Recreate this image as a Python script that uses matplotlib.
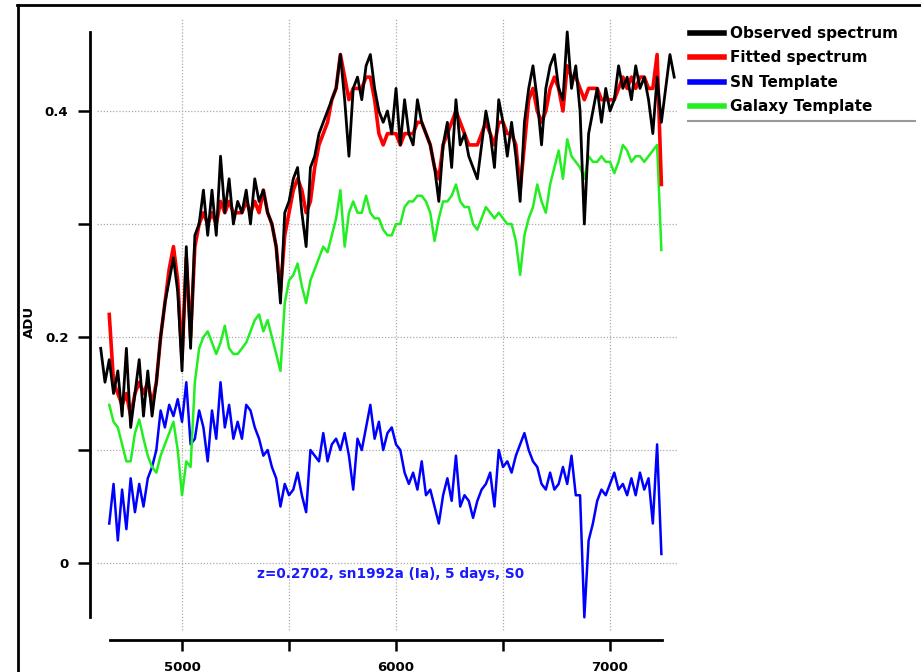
import numpy as np
import matplotlib.pyplot as plt
from matplotlib.lines import Line2D

# wavelength grids (Angstrom)
wave_obs = np.arange(4620, 7301, 20)   # observed spectrum
wave_mod = np.arange(4660, 7241, 20)   # fit + templates

# observed spectrum (ADU), rows of 10 starting at 4620, 4820, ...
observed = [
    0.19, 0.16, 0.18, 0.15, 0.17, 0.13, 0.19, 0.12, 0.15, 0.18,
    0.13, 0.17, 0.13, 0.16, 0.20, 0.23, 0.25, 0.27, 0.24, 0.17,
    0.28, 0.19, 0.29, 0.30, 0.33, 0.29, 0.33, 0.29, 0.36, 0.31,
    0.34, 0.30, 0.32, 0.31, 0.33, 0.30, 0.34, 0.32, 0.33, 0.31,
    0.30, 0.28, 0.23, 0.31, 0.32, 0.34, 0.35, 0.31, 0.28, 0.35,
    0.36, 0.38, 0.39, 0.40, 0.41, 0.42, 0.45, 0.41, 0.36, 0.42,
    0.43, 0.41, 0.44, 0.45, 0.42, 0.40, 0.39, 0.40, 0.38, 0.42,
    0.37, 0.41, 0.38, 0.37, 0.41, 0.39, 0.38, 0.37, 0.35, 0.32,
    0.37, 0.39, 0.35, 0.41, 0.37, 0.38, 0.36, 0.35, 0.34, 0.37,
    0.40, 0.38, 0.35, 0.41, 0.39, 0.36, 0.39, 0.36, 0.32, 0.39,
    0.42, 0.44, 0.41, 0.37, 0.42, 0.44, 0.45, 0.42, 0.41, 0.47,
    0.42, 0.44, 0.40, 0.30, 0.38, 0.40, 0.42, 0.39, 0.42, 0.40,
    0.41, 0.44, 0.42, 0.43, 0.41, 0.44, 0.42, 0.43, 0.41, 0.38,
    0.43, 0.39, 0.42, 0.45, 0.43,
]

# fitted spectrum, rows of 10 starting at 4660, 4860, ...
fitted = [
    0.22, 0.16, 0.15, 0.14, 0.15, 0.13, 0.15, 0.16, 0.15, 0.16,
    0.14, 0.16, 0.20, 0.23, 0.26, 0.28, 0.25, 0.18, 0.27, 0.20,
    0.28, 0.30, 0.31, 0.30, 0.31, 0.30, 0.32, 0.31, 0.32, 0.31,
    0.31, 0.31, 0.32, 0.31, 0.32, 0.31, 0.33, 0.31, 0.30, 0.28,
    0.24, 0.29, 0.31, 0.33, 0.34, 0.33, 0.31, 0.32, 0.35, 0.37,
    0.38, 0.39, 0.41, 0.42, 0.45, 0.43, 0.41, 0.42, 0.42, 0.42,
    0.43, 0.43, 0.41, 0.38, 0.37, 0.38, 0.38, 0.38, 0.37, 0.38,
    0.38, 0.38, 0.39, 0.39, 0.38, 0.37, 0.35, 0.34, 0.37, 0.38,
    0.39, 0.40, 0.39, 0.38, 0.37, 0.37, 0.37, 0.38, 0.39, 0.38,
    0.37, 0.39, 0.39, 0.38, 0.38, 0.37, 0.33, 0.37, 0.41, 0.42,
    0.40, 0.39, 0.40, 0.42, 0.43, 0.42, 0.40, 0.44, 0.43, 0.43,
    0.42, 0.41, 0.42, 0.42, 0.42, 0.41, 0.41, 0.41, 0.41, 0.42,
    0.43, 0.42, 0.43, 0.42, 0.43, 0.43, 0.42, 0.42, 0.45, 0.335,
]

sn_template = [
    0.035, 0.07, 0.02, 0.065, 0.03, 0.075, 0.045, 0.07, 0.05, 0.075,
    0.085, 0.10, 0.135, 0.12, 0.14, 0.13, 0.145, 0.125, 0.16, 0.105,
    0.11, 0.135, 0.12, 0.09, 0.135, 0.11, 0.16, 0.12, 0.14, 0.11,
    0.125, 0.11, 0.14, 0.135, 0.12, 0.11, 0.095, 0.10, 0.085, 0.075,
    0.05, 0.07, 0.06, 0.065, 0.08, 0.06, 0.045, 0.10, 0.095, 0.09,
    0.115, 0.09, 0.105, 0.11, 0.10, 0.115, 0.095, 0.065, 0.11, 0.10,
    0.12, 0.14, 0.11, 0.125, 0.10, 0.115, 0.12, 0.105, 0.10, 0.08,
    0.07, 0.08, 0.065, 0.09, 0.06, 0.065, 0.05, 0.035, 0.06, 0.075,
    0.055, 0.095, 0.05, 0.06, 0.055, 0.04, 0.055, 0.065, 0.07, 0.08,
    0.05, 0.10, 0.085, 0.09, 0.08, 0.095, 0.105, 0.115, 0.10, 0.09,
    0.085, 0.07, 0.065, 0.08, 0.065, 0.07, 0.085, 0.07, 0.095, 0.06,
    0.06, -0.048, 0.02, 0.035, 0.055, 0.065, 0.06, 0.07, 0.08, 0.065,
    0.07, 0.06, 0.075, 0.06, 0.08, 0.065, 0.075, 0.035, 0.105, 0.008,
]

galaxy_template = [
    0.14, 0.125, 0.12, 0.105, 0.09, 0.09, 0.115, 0.127, 0.11, 0.095,
    0.085, 0.08, 0.095, 0.105, 0.115, 0.125, 0.10, 0.06, 0.09, 0.085,
    0.16, 0.19, 0.20, 0.205, 0.195, 0.185, 0.195, 0.21, 0.19, 0.185,
    0.185, 0.19, 0.195, 0.205, 0.215, 0.22, 0.205, 0.215, 0.20, 0.185,
    0.17, 0.23, 0.25, 0.255, 0.265, 0.245, 0.23, 0.25, 0.26, 0.27,
    0.28, 0.275, 0.29, 0.305, 0.33, 0.28, 0.31, 0.32, 0.31, 0.31,
    0.325, 0.31, 0.305, 0.305, 0.295, 0.29, 0.29, 0.30, 0.30, 0.315,
    0.32, 0.32, 0.325, 0.325, 0.32, 0.31, 0.285, 0.305, 0.32, 0.32,
    0.325, 0.335, 0.32, 0.315, 0.315, 0.30, 0.295, 0.305, 0.315, 0.31,
    0.305, 0.31, 0.305, 0.30, 0.30, 0.285, 0.255, 0.29, 0.305, 0.315,
    0.335, 0.32, 0.31, 0.335, 0.35, 0.365, 0.34, 0.375, 0.36, 0.355,
    0.35, 0.34, 0.36, 0.355, 0.355, 0.36, 0.355, 0.355, 0.345, 0.355,
    0.37, 0.365, 0.355, 0.36, 0.36, 0.355, 0.36, 0.365, 0.37, 0.277,
]

legend_labels = ['Observed spectrum', 'Fitted spectrum', 'SN Template', 'Galaxy Template']
colors = ['#000000', '#ff0000', '#0000ff', '#22ee22']
annotation = 'z=0.2702, sn1992a (Ia), 5 days, S0'

W, H = 921, 672
fig = plt.figure(figsize=(W / 100, H / 100), dpi=100)
ax = fig.add_axes([90 / W, 1 - 640 / H, 590 / W, 622 / H])

ax.set_xlim(4570, 7327)
ax.set_ylim(-0.0681, 0.4823)

# dotted grid, drawn by hand so it stops short of the axes like the original
grid_kw = dict(color='#aaaaaa', lw=0.9, linestyle=(0, (1, 1.5)), zorder=0)
ax.vlines([5000, 5500, 6000, 6500, 7000], -0.059, 0.4823, **grid_kw)
ax.hlines([0, 0.1, 0.2, 0.3, 0.4], 4603, 7318, **grid_kw)

ax.plot(wave_mod, sn_template, color=colors[2], lw=1.8, zorder=2)
ax.plot(wave_mod, galaxy_template, color=colors[3], lw=1.8, zorder=3)
ax.plot(wave_mod, fitted, color=colors[1], lw=2.6, zorder=4)
ax.plot(wave_obs, observed, color=colors[0], lw=2.0, zorder=5)

ax.text(5350, -0.0097, annotation, color='#1a1aff', fontsize=9.8,
        fontweight='bold', va='center', ha='left')

# detached axes
for s in ['top', 'right']:
    ax.spines[s].set_visible(False)
ax.spines['left'].set_bounds(-0.048, 0.47)
ax.spines['bottom'].set_bounds(4664, 7243)
ax.spines['left'].set_linewidth(2)
ax.spines['bottom'].set_linewidth(2)

ax.set_yticks([0, 0.1, 0.2, 0.3, 0.4])
ax.set_yticklabels(['0', '', '0.2', '', '0.4'])
ax.set_xticks([5000, 5500, 6000, 6500, 7000])
ax.set_xticklabels(['5000', '', '6000', '', '7000'])
ax.tick_params(axis='y', direction='out', length=8.5, width=1.8, pad=7,
               labelsize=9.5)
ax.tick_params(axis='x', direction='out', length=8, width=1.8, pad=7,
               labelsize=9.5)
for lab in ax.get_xticklabels() + ax.get_yticklabels():
    lab.set_fontweight('bold')

fig.text(29 / W, 1 - 322 / H, 'ADU', rotation=90, fontsize=9.5,
         fontweight='bold', ha='center', va='center')

handles = [Line2D([], [], color=c, lw=4) for c in colors]
fig.legend(handles, legend_labels, loc='upper left',
           bbox_to_anchor=(690 / W, 1 - 26 / H), frameon=False,
           borderpad=0, borderaxespad=0, handlelength=2.2,
           handletextpad=0.4, labelspacing=0.62,
           prop={'size': 11, 'weight': 'bold'})

# grey rule under the legend and the outer frame
fig.add_artist(Line2D([688 / W, 915 / W], [1 - 121 / H] * 2,
                      color='#999999', lw=1.5))
fig.add_artist(Line2D([17 / W, 1], [1 - 5 / H] * 2, color='black', lw=2))
fig.add_artist(Line2D([18 / W] * 2, [0, 1 - 5 / H], color='black', lw=2))

fig.savefig('out.png', dpi=100)
